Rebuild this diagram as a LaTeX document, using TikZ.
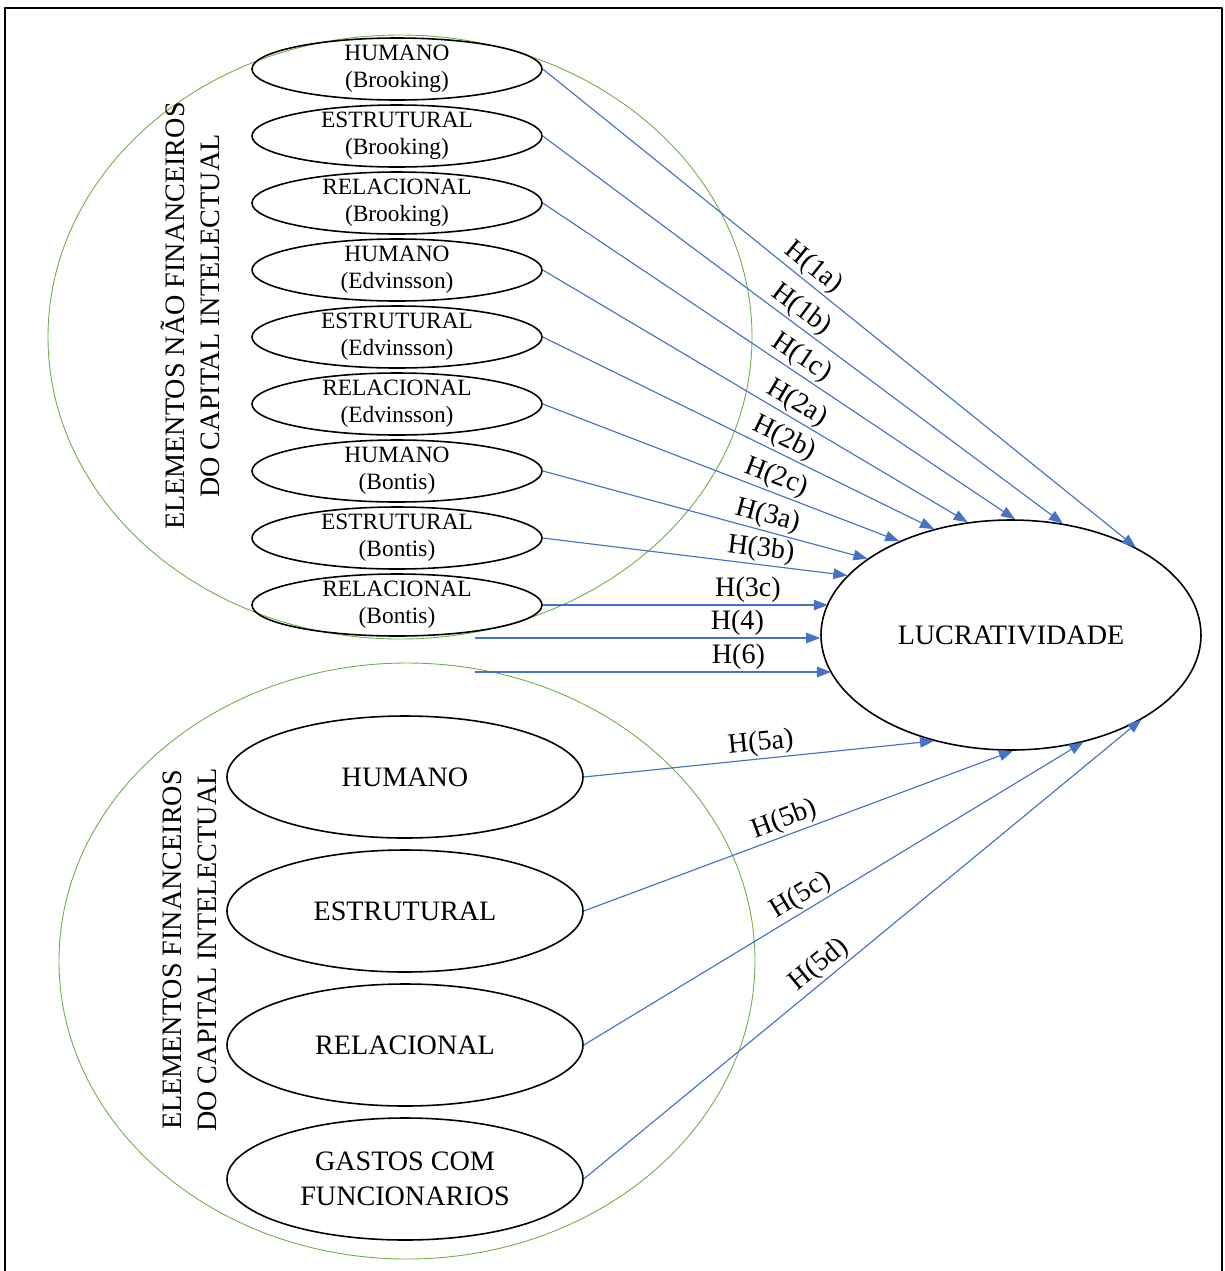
\documentclass[tikz,border=0pt]{standalone}
\usepackage{fontspec}
\setmainfont{Liberation Serif}
\usetikzlibrary{arrows.meta,shapes.geometric}
\definecolor{azul}{RGB}{68,114,196}
\definecolor{verde}{RGB}{112,173,71}
\tikzset{
  elip/.style={draw,ellipse,line width=0.9pt,inner xsep=0pt,align=center},
  peq/.style={elip,inner ysep=-2pt,minimum width=58mm,minimum height=12.4mm,font=\fontsize{13.3}{15.3}\selectfont},
  gr/.style={elip,inner ysep=0pt,minimum width=71.2mm,minimum height=24.4mm,font=\fontsize{16}{19.8}\selectfont},
  seta/.style={->,azul,line width=0.65pt},
  hip/.style={above,sloped,inner sep=1pt,text=black,font=\fontsize{16}{19}\selectfont}
}
\begin{document}
\begin{tikzpicture}[x=0.2mm,y=-0.2mm,>={Triangle[length=2.8mm,width=2.1mm]},line join=round]
\useasboundingbox (0,0) rectangle (1225,1271);
\draw[line width=1.2pt] (5,8) rectangle (1222,1290);
\draw[verde,line width=0.5pt] (400,337) ellipse [x radius=352,y radius=302];
\draw[verde,line width=0.5pt] (407,961) ellipse [x radius=348,y radius=298];
\node[rotate=90,align=center,font=\fontsize{16}{19.8}\selectfont] (T1) at (190,316) {ELEMENTOS NÃO FINANCEIROS\\DO CAPITAL INTELECTUAL};
\node[rotate=90,align=center,font=\fontsize{16}{19.8}\selectfont] (T2) at (190,950) {ELEMENTOS FINANCEIROS\\DO CAPITAL INTELECTUAL};
\foreach \t/\s [count=\i] in {HUMANO/Brooking,ESTRUTURAL/Brooking,RELACIONAL/Brooking,HUMANO/Edvinsson,ESTRUTURAL/Edvinsson,RELACIONAL/Edvinsson,HUMANO/Bontis,ESTRUTURAL/Bontis,RELACIONAL/Bontis}
  \node[peq] (A\i) at (397,{69+67*(\i-1)}) {\t\\(\s)};
\node[gr] (B1) at (405,777) {HUMANO};
\node[gr] (B2) at (405,911) {ESTRUTURAL};
\node[gr] (B3) at (405,1045) {RELACIONAL};
\node[gr] (B4) at (405,1179) {GASTOS COM\\FUNCIONARIOS};
\node[elip,minimum width=76mm,minimum height=46mm,font=\fontsize{16}{19.8}\selectfont] (L) at (1011,635) {LUCRATIVIDADE};
\coordinate (P) at (475,638);
\coordinate (Q) at (475,672);
\draw[seta] (A1.east) -- node[hip,pos=.44]{H(1a)} (L.35);
\draw[seta] (A2.east) -- node[hip,pos=.48]{H(1b)} (L.65);
\draw[seta] (A3.east) -- node[hip,pos=.53]{H(1c)} (L.88);
\draw[seta] (A4.east) -- node[hip,pos=.58]{H(2a)} (L.111);
\draw[seta] (A5.east) -- node[hip,pos=.60]{H(2b)} (L.126);
\draw[seta] (A6.east) -- node[hip,pos=.64]{H(2c)} (L.140);
\draw[seta] (A7.east) -- node[hip,pos=.68]{H(3a)} (L.152);
\draw[seta] (A8.east) -- node[hip,pos=.71]{H(3b)} (L.160);
\draw[seta] (A9.east) -- node[hip,pos=.72]{H(3c)} (A9.east -| L.170);
\draw[seta] (P) -- node[hip,pos=.76]{H(4)} (P -| L.west);
\draw[seta] (Q) -- node[hip,pos=.74]{H(6)} (Q -| L.192);
\draw[seta] (B1.east) -- node[hip,pos=.51]{H(5a)} (L.234);
\draw[seta] (B2.east) -- node[hip,pos=.48]{H(5b)} (L.271);
\draw[seta] (B3.east) -- node[hip,pos=.45]{H(5c)} (L.304);
\draw[seta] (B4.east) -- node[hip,pos=.44]{H(5d)} (L.327);
\end{tikzpicture}
\end{document}
